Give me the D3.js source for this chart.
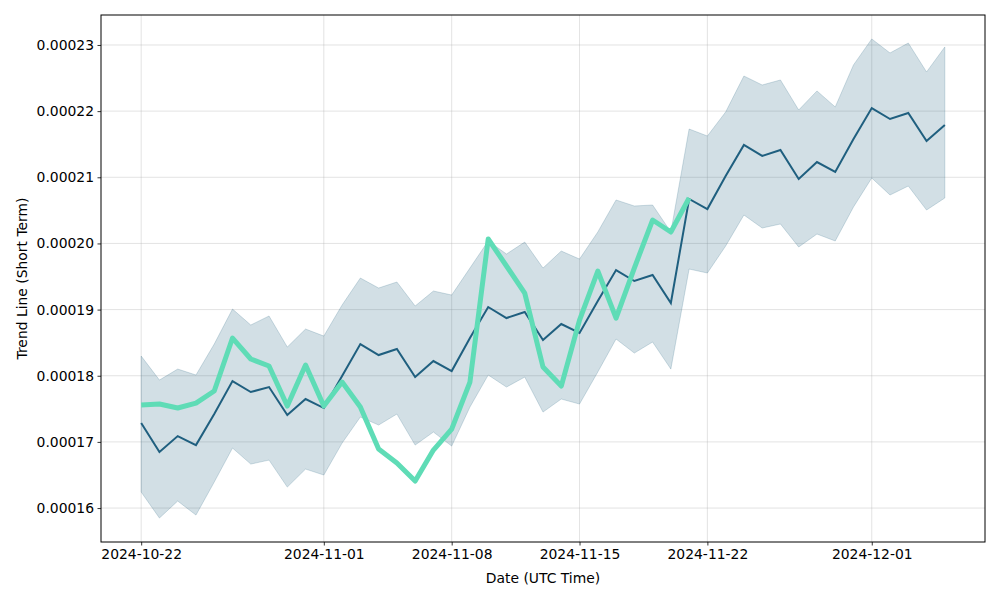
<!DOCTYPE html>
<html>
<head>
<meta charset="utf-8">
<script src="https://cdn.jsdelivr.net/npm/d3@7"></script>
<style>
  html, body { margin: 0; padding: 0; background: #fff; overflow: hidden; width: 1000px; height: 600px; }
  svg { display: block; font-family: "DejaVu Sans", sans-serif; }
</style>
</head>
<body>
<svg id="chart" width="1000" height="600"></svg>
<script>
// ---- data ----
const startDate = "2024-10-22";
const endDate = "2024-12-06"; // exclusive
const xTickLabels = ["2024-10-22", "2024-11-01", "2024-11-08", "2024-11-15", "2024-11-22", "2024-12-01"];
const yTickValues = [0.00016, 0.00017, 0.00018, 0.00019, 0.00020, 0.00021, 0.00022, 0.00023];

const trendMean = [
  0.00017285, 0.00016846, 0.00017088, 0.00016952, 0.00017421, 0.00017920, 0.00017754, 0.00017829,
  0.00017406, 0.00017648, 0.00017512, 0.00017995, 0.00018479, 0.00018313, 0.00018404, 0.00017980,
  0.00018222, 0.00018071, 0.00018570, 0.00019039, 0.00018872, 0.00018963, 0.00018540, 0.00018782,
  0.00018646, 0.00019129, 0.00019598, 0.00019432, 0.00019523, 0.00019099, 0.00020672, 0.00020520,
  0.00021019, 0.00021488, 0.00021322, 0.00021412, 0.00020974, 0.00021231, 0.00021080, 0.00021579,
  0.00022047, 0.00021881, 0.00021972, 0.00021549, 0.00021790
];
const trendUpper = [
  0.00018298, 0.00017935, 0.00018101, 0.00018011, 0.00018479, 0.00019008, 0.00018767, 0.00018903,
  0.00018434, 0.00018706, 0.00018600, 0.00019069, 0.00019477, 0.00019326, 0.00019417, 0.00019054,
  0.00019281, 0.00019220, 0.00019628, 0.00020037, 0.00019840, 0.00020021, 0.00019628, 0.00019885,
  0.00019764, 0.00020173, 0.00020657, 0.00020566, 0.00020581, 0.00020173, 0.00021730, 0.00021624,
  0.00021987, 0.00022531, 0.00022395, 0.00022471, 0.00022017, 0.00022305, 0.00022063, 0.00022698,
  0.00023091, 0.00022879, 0.00023030, 0.00022592, 0.00022970
];
const trendLower = [
  0.00016242, 0.00015849, 0.00016106, 0.00015894, 0.00016393, 0.00016907, 0.00016665, 0.00016725,
  0.00016317, 0.00016589, 0.00016499, 0.00016982, 0.00017376, 0.00017255, 0.00017421, 0.00016952,
  0.00017149, 0.00016937, 0.00017527, 0.00018011, 0.00017829, 0.00017980, 0.00017451, 0.00017648,
  0.00017572, 0.00018056, 0.00018555, 0.00018343, 0.00018510, 0.00018101, 0.00019613, 0.00019553,
  0.00019961, 0.00020430, 0.00020233, 0.00020294, 0.00019946, 0.00020142, 0.00020037, 0.00020551,
  0.00020989, 0.00020732, 0.00020868, 0.00020505, 0.00020687
];
const actualPrice = [
  0.00017557, 0.00017572, 0.00017512, 0.00017587, 0.00017769, 0.00018570, 0.00018253, 0.00018147,
  0.00017542, 0.00018162, 0.00017542, 0.00017905, 0.00017527, 0.00016892, 0.00016680, 0.00016408,
  0.00016877, 0.00017194, 0.00017905, 0.00020067, 0.00019659, 0.00019250, 0.00018132, 0.00017844,
  0.00018842, 0.00019583, 0.00018872, 0.00019628, 0.00020354, 0.00020173, 0.00020687
];

// ---- layout ----
const margin = { left: 101, right: 15, top: 15, bottom: 58 };
const W = 1000, H = 600;
const plotW = W - margin.left - margin.right;
const plotH = H - margin.top - margin.bottom;
const fontSize = "13.9px";

const parse = d3.utcParse("%Y-%m-%d");
const dates = d3.utcDay.range(parse(startDate), parse(endDate));

const svg = d3.select("#chart");
const g = svg.append("g").attr("transform", `translate(${margin.left},${margin.top})`);

// x domain with matplotlib-style 5% margins
const x0 = dates[0], x1 = dates[dates.length - 1];
const span = x1 - x0;
const x = d3.scaleUtc()
  .domain([new Date(+x0 - span * 0.05), new Date(+x1 + span * 0.05)])
  .range([0, plotW]);

const yMin = d3.min(trendLower.concat(actualPrice));
const yMax = d3.max(trendUpper.concat(actualPrice));
const yPad = (yMax - yMin) * 0.05;
const y = d3.scaleLinear().domain([yMin - yPad, yMax + yPad]).range([plotH, 0]);

const xTickDates = xTickLabels.map(parse);

// grid
g.append("g").selectAll("line").data(xTickDates).join("line")
  .attr("x1", d => x(d)).attr("x2", d => x(d))
  .attr("y1", 0).attr("y2", plotH)
  .attr("stroke", "#b0b0b0").attr("stroke-opacity", 0.35).attr("stroke-width", 1);
g.append("g").selectAll("line").data(yTickValues).join("line")
  .attr("x1", 0).attr("x2", plotW)
  .attr("y1", d => y(d)).attr("y2", d => y(d))
  .attr("stroke", "#b0b0b0").attr("stroke-opacity", 0.35).attr("stroke-width", 1);

// band
const bandColor = "#1f5f7f";
const area = d3.area()
  .x((d, i) => x(dates[i]))
  .y0((d, i) => y(trendLower[i]))
  .y1((d, i) => y(trendUpper[i]));
g.append("path")
  .datum(trendMean)
  .attr("d", area)
  .attr("fill", bandColor).attr("fill-opacity", 0.2)
  .attr("stroke", bandColor).attr("stroke-opacity", 0.2).attr("stroke-width", 1);

// mean line
const line = d3.line().x((d, i) => x(dates[i])).y(d => y(d));
g.append("path")
  .datum(trendMean)
  .attr("d", line)
  .attr("fill", "none")
  .attr("stroke", "#1f5f7f")
  .attr("stroke-width", 2);

// actual price line
g.append("path")
  .datum(actualPrice)
  .attr("d", line)
  .attr("fill", "none")
  .attr("stroke", "#5fdcb6")
  .attr("stroke-width", 5)
  .attr("stroke-linejoin", "round");

// axes
const xAxis = d3.axisBottom(x).tickValues(xTickDates).tickFormat(d3.utcFormat("%Y-%m-%d")).tickSize(3.5).tickPadding(3.5);
const yAxis = d3.axisLeft(y).tickValues(yTickValues).tickFormat(d3.format(".5f")).tickSize(3.5).tickPadding(3.5);

const gx = g.append("g").attr("transform", `translate(0,${plotH})`).call(xAxis);
const gy = g.append("g").call(yAxis);
[gx, gy].forEach(a => {
  a.select(".domain").remove();
  a.selectAll(".tick line").attr("stroke", "#000").attr("stroke-width", 0.8);
  a.selectAll(".tick text").attr("fill", "#000").attr("font-size", fontSize).attr("font-family", "DejaVu Sans, sans-serif");
});

// frame
g.append("rect").attr("x", 0).attr("y", 0).attr("width", plotW).attr("height", plotH)
  .attr("fill", "none").attr("stroke", "#000").attr("stroke-width", 1);

// labels
svg.append("text")
  .attr("x", margin.left + plotW / 2).attr("y", 583)
  .attr("text-anchor", "middle").attr("font-size", fontSize).attr("fill", "#000")
  .text("Date (UTC Time)");
svg.append("text")
  .attr("transform", `translate(27,${margin.top + plotH / 2}) rotate(-90)`)
  .attr("text-anchor", "middle").attr("font-size", fontSize).attr("fill", "#000")
  .text("Trend Line (Short Term)");
</script>
</body>
</html>
